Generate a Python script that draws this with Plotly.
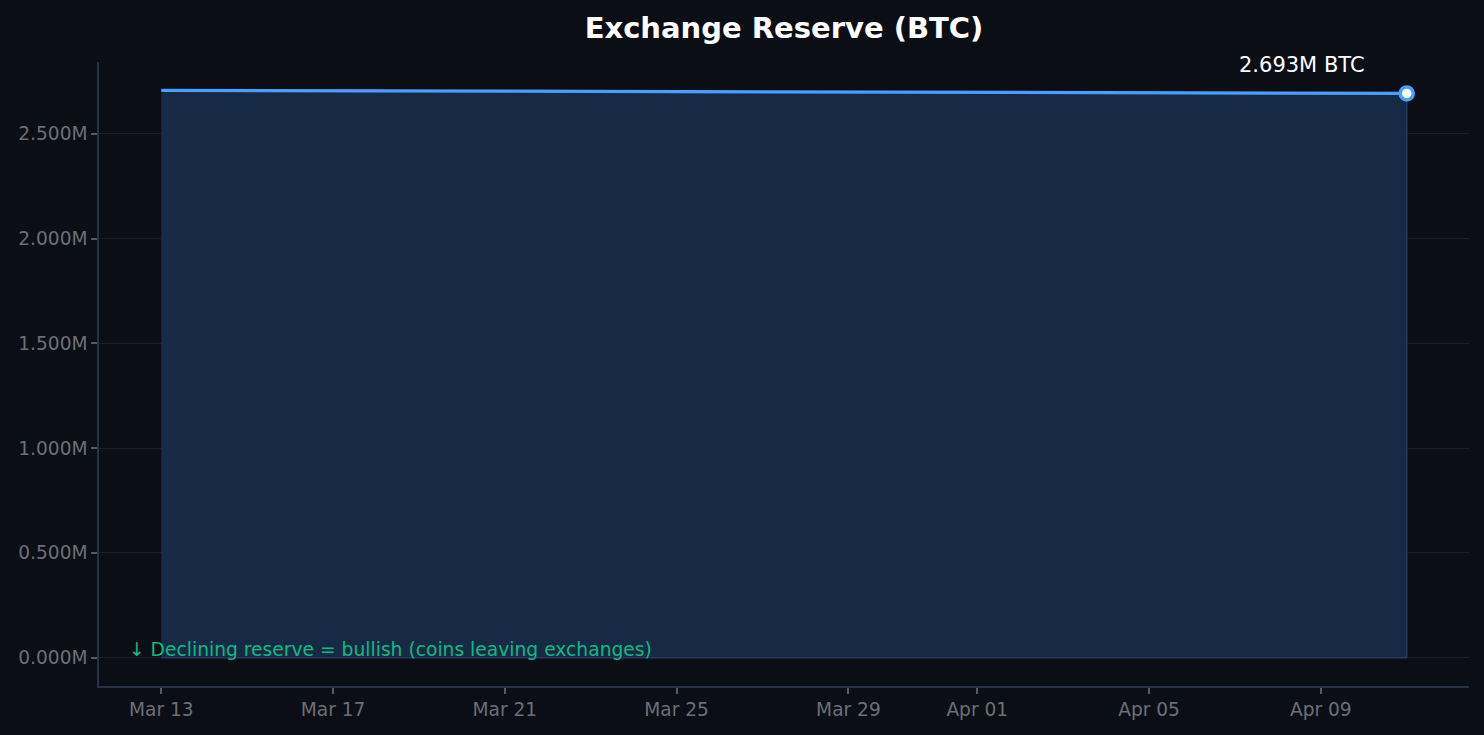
import datetime as _dt
import plotly.graph_objects as go

dates = ["2025-03-13", "2025-03-14", "2025-03-15", "2025-03-16", "2025-03-17", "2025-03-18",
         "2025-03-19", "2025-03-20", "2025-03-21", "2025-03-22", "2025-03-23", "2025-03-24",
         "2025-03-25", "2025-03-26", "2025-03-27", "2025-03-28", "2025-03-29", "2025-03-30",
         "2025-03-31", "2025-04-01", "2025-04-02", "2025-04-03", "2025-04-04", "2025-04-05",
         "2025-04-06", "2025-04-07", "2025-04-08", "2025-04-09", "2025-04-10", "2025-04-11"]
reserve_m = [2.7075, 2.7070, 2.7065, 2.7060, 2.7055, 2.7050, 2.7045, 2.7040, 2.7035, 2.7030,
             2.7025, 2.7020, 2.7015, 2.7010, 2.7005, 2.7000, 2.6995, 2.6990, 2.6985, 2.6980,
             2.6975, 2.6970, 2.6965, 2.6960, 2.6955, 2.6950, 2.6945, 2.6940, 2.6935, 2.6930]

tick_dates = ["2025-03-13", "2025-03-17", "2025-03-21", "2025-03-25", "2025-03-29",
              "2025-04-01", "2025-04-05", "2025-04-09"]
tick_text = ["Mar 13", "Mar 17", "Mar 21", "Mar 25", "Mar 29", "Apr 01", "Apr 05", "Apr 09"]
y_ticks = [0.0, 0.5, 1.0, 1.5, 2.0, 2.5]
y_text = [f"{v:.3f}M" for v in y_ticks]

title = "Exchange Reserve (BTC)"
note = "↓ Declining reserve = bullish (coins leaving exchanges)"
last_label = f"{reserve_m[-1]:.3f}M BTC"

BG = "#0b0e15"
FONT = "DejaVu Sans"
TICK_COLOR = "#6b6e75"

fig = go.Figure()

# filled area polygon (with thin outline like fill_between)
fig.add_trace(go.Scatter(
    x=dates + dates[::-1],
    y=reserve_m + [0.0] * len(reserve_m),
    fill="toself", fillcolor="#172a45",
    line=dict(color="#253c60", width=1.5),
    mode="lines", hoverinfo="skip", showlegend=False,
))
# main line
fig.add_trace(go.Scatter(
    x=dates, y=reserve_m, mode="lines",
    line=dict(color="#4a9eff", width=3.2),
    showlegend=False,
))
# last point marker
fig.add_trace(go.Scatter(
    x=[dates[-1]], y=[reserve_m[-1]], mode="markers",
    marker=dict(size=13, color="white", line=dict(color="#4a9eff", width=3.5)),
    showlegend=False,
))

fig.add_annotation(
    x=dates[-1], y=reserve_m[-1], text=last_label, showarrow=False,
    xshift=-105, yshift=28, font=dict(family=FONT, size=21, color="white"),
)
fig.add_annotation(
    xref="paper", yref="paper", x=0.0205, y=0.0585, text=note, showarrow=False,
    xanchor="left", yanchor="middle",
    font=dict(family=FONT, size=18.7, color="#10b981"),
)

# ranges with matplotlib-like 5% margins
n_days = len(dates) - 1
d0 = _dt.datetime.fromisoformat(dates[0])
xr = [d0 + _dt.timedelta(days=-0.05 * n_days), d0 + _dt.timedelta(days=1.05 * n_days)]
ymax = max(reserve_m)
yr = [-0.05 * ymax, ymax * 1.05]

fig.update_layout(
    width=1484, height=735,
    paper_bgcolor=BG, plot_bgcolor=BG,
    margin=dict(l=99, r=15, t=62, b=49),
    title=dict(text=f"<b>{title}</b>", x=0.5283, xanchor="center", y=0.962, yanchor="middle",
               font=dict(family=FONT, size=29, color="white")),
    font=dict(family=FONT, color=TICK_COLOR),
    xaxis=dict(
        range=xr, tickvals=tick_dates, ticktext=tick_text,
        showgrid=False, zeroline=False,
        showline=True, linecolor="#283247", linewidth=1.5,
        ticks="outside", ticklen=6, tickcolor="#555a63", tickwidth=1.5,
        tickfont=dict(family=FONT, size=18.6, color=TICK_COLOR),
    ),
    yaxis=dict(
        range=yr, tickvals=y_ticks, ticktext=y_text,
        showgrid=True, gridcolor="#1a1f2b", gridwidth=1, zeroline=False,
        showline=True, linecolor="#283247", linewidth=1.5,
        ticks="outside", ticklen=6, tickcolor="#555a63", tickwidth=1.5,
        tickfont=dict(family=FONT, size=18.6, color=TICK_COLOR),
    ),
)

fig.write_html(
    "out.html",
    config={"displayModeBar": False},
    post_script="document.body.style.margin='0';document.body.style.background='%s';" % BG,
)
